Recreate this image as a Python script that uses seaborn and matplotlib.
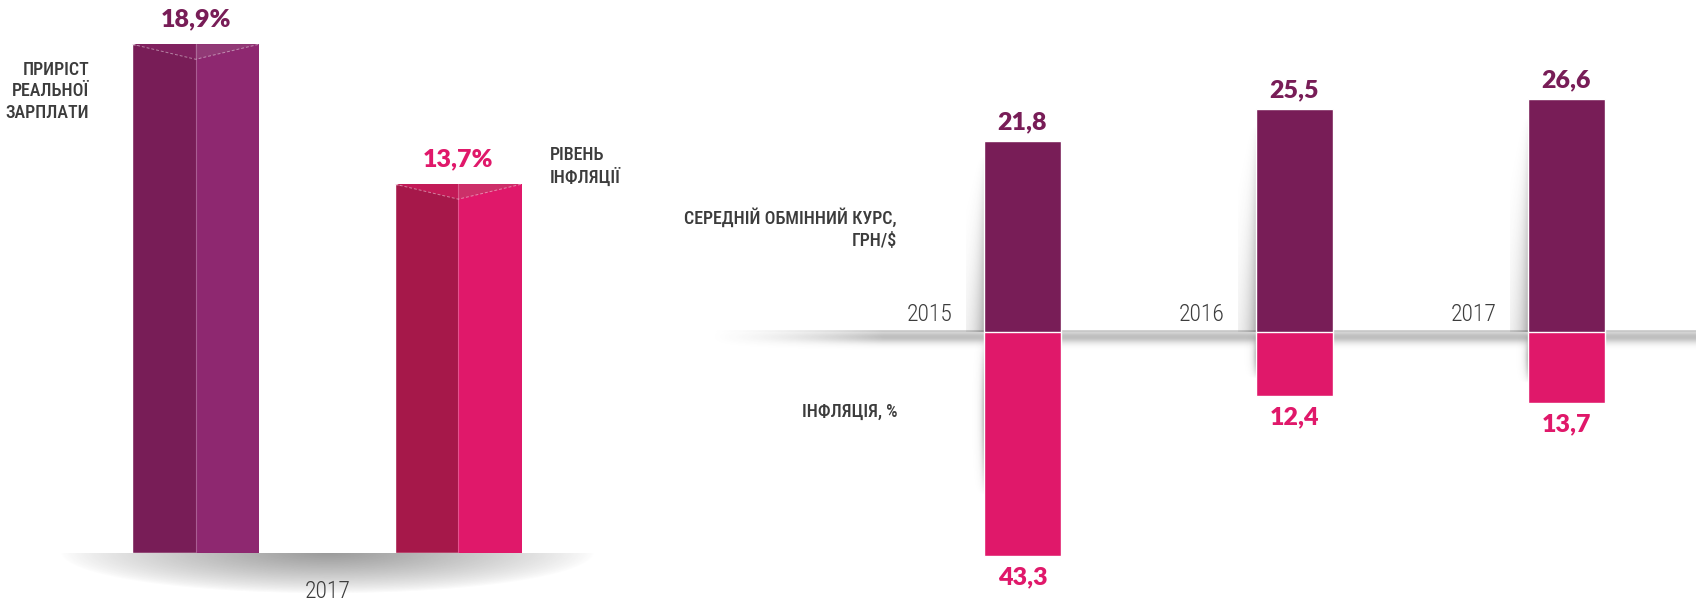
import numpy as np
import matplotlib
matplotlib.use("Agg")
import matplotlib.pyplot as plt
import matplotlib.transforms as mtransforms
from matplotlib import font_manager
from matplotlib.patches import Rectangle, Polygon
import seaborn as sns

# -----------------------------------
# DATA
# -----------------------------------

left_labels = ["ПРИРІСТ\nРЕАЛЬНОЇ\nЗАРПЛАТИ", "РІВЕНЬ\nІНФЛЯЦІЇ"]
left_values = [18.9, 13.7]
left_year = "2017"

years = ["2015", "2016", "2017"]
exchange_rate = [21.8, 25.5, 26.6]
inflation = [43.3, 12.4, 13.7]
rate_label = "СЕРЕДНІЙ ОБМІННИЙ КУРС,\nГРН/$"
infl_label = "ІНФЛЯЦІЯ, %"

# -----------------------------------
# STYLE
# -----------------------------------

PURPLE = "#781d57"
PURPLE_LIGHT = "#8e2870"
CRIMSON = "#a6184a"
PINK = "#e0186a"
GREY = "#3c3c3c"
TOP_FACE = [("#80215f", "#913a76"), ("#c21a57", "#cc3069")]

sns.set_theme(style="white")

installed = {f.name for f in font_manager.fontManager.ttflist}


def pick(*names):
    for n in names:
        if n in installed:
            return n
    return "DejaVu Sans"


NARROW = pick("Liberation Sans Narrow", "Roboto Condensed", "Roboto")
HEAVY = pick("Lato", "Inter", "Roboto")
plt.rcParams["font.family"] = [NARROW, "DejaVu Sans"]

W, H = 1696, 605
fig = plt.figure(figsize=(W / 100, H / 100), dpi=100)


def box(x0, y0, x1, y1):
    # pixel box (from top-left) -> figure fraction rect
    return [x0 / W, 1 - y1 / H, (x1 - x0) / W, (y1 - y0) / H]


def fxy(x, y):
    return x / W, 1 - y / H


def shifted(ax, dx, dy):
    return mtransforms.offset_copy(ax.transData, fig=fig, x=dx, y=dy, units="dots")


# -----------------------------------
# LEFT CHART: wage growth vs inflation 2017
# -----------------------------------

BASE_L = 552.7
PX_L = 26.9  # pixels per percent

# soft elliptical shadow under the bars
ax_sh = fig.add_axes(box(60, BASE_L, 594, 594))
gx = np.linspace(-1, 1, 534)
gy = np.linspace(0, 1, 41)
XX, YY = np.meshgrid(gx, gy)
r = np.sqrt(XX ** 2 + YY ** 2)
shadow = np.zeros(XX.shape + (4,))
shadow[..., :3] = 0.2
shadow[..., 3] = 0.5 * np.clip(1 - r, 0, 1) ** 0.8
ax_sh.imshow(shadow, aspect="auto", interpolation="bilinear")
ax_sh.axis("off")

ax_l = fig.add_axes(box(64.4, 0, 589.6, BASE_L))
sns.barplot(x=left_labels, y=left_values, hue=left_labels,
            palette=[PURPLE, CRIMSON], width=0.482, saturation=1,
            legend=False, ax=ax_l)
ax_l.set_xlim(-0.5, 1.5)
ax_l.set_ylim(0, BASE_L / PX_L)
ax_l.axis("off")

depth = 15 / PX_L
light = [PURPLE_LIGHT, PINK]
text_col = [PURPLE, PINK]
for i, p in enumerate(list(ax_l.patches)[:2]):
    x, w, h = p.get_x(), p.get_width(), p.get_height()
    mid = x + w / 2
    ax_l.add_patch(Rectangle((mid, 0), w / 2, h, color=light[i], lw=0))
    ax_l.plot([mid, mid], [0, h], color="white", alpha=0.25, lw=0.8)
    ax_l.add_patch(Polygon([(x, h), (mid, h), (mid, h - depth)],
                           closed=True, color=TOP_FACE[i][0], lw=0))
    ax_l.add_patch(Polygon([(mid, h), (x + w, h), (mid, h - depth)],
                           closed=True, color=TOP_FACE[i][1], lw=0))
    ax_l.plot([x, mid, x + w], [h, h - depth, h], color="white", alpha=0.45,
              lw=0.7, ls=(0, (3, 2)))
    ax_l.text(mid, h, f"{left_values[i]:.1f}".replace(".", ",") + "%",
              transform=shifted(ax_l, 0, 25), ha="center", va="center",
              fontsize=18, fontweight="heavy", family=[HEAVY, "DejaVu Sans"],
              color=text_col[i])

fig.text(*fxy(89, 91.5), left_labels[0], ha="right", va="center",
         multialignment="right", fontsize=13, fontweight="medium",
         color=GREY, linespacing=1.25)
fig.text(*fxy(550, 166), left_labels[1], ha="left", va="center",
         multialignment="left", fontsize=13, fontweight="medium",
         color=GREY, linespacing=1.25)
fig.text(*fxy(328, 592), left_year, ha="center", va="center",
         fontsize=17, fontweight="light", color=GREY)

# -----------------------------------
# RIGHT CHART: exchange rate (up) and inflation (down)
# -----------------------------------

BASE_R = 331.7
PX_T = 8.73   # pixels per UAH
PX_B = 5.17   # pixels per percent
XL = (-1.186, 2.477)
PX_X = 271.9  # pixels per category

# shelf shadow along the zero line
ax_shelf = fig.add_axes(box(705, BASE_R - 2, 1696, BASE_R + 22))
sx = np.linspace(0, 1, 991)
sy = np.arange(24)
SX, SY = np.meshgrid(sx, sy)
shelf = np.zeros(SX.shape + (4,))
shelf[..., :3] = 0.25
fade_in = np.clip(SX / 0.18, 0, 1) ** 1.5
shelf[..., 3] = fade_in * (0.34 * np.exp(-((SY - 7) / 6.0) ** 2)
                           + 0.12 * (SY < 3))
ax_shelf.imshow(shelf, aspect="auto", interpolation="bilinear")
ax_shelf.axis("off")

ax_t = fig.add_axes(box(700, 0, 1696, BASE_R))
sns.barplot(x=years, y=exchange_rate, color=PURPLE, saturation=1,
            width=0.283, ax=ax_t)
ax_b = fig.add_axes(box(700, BASE_R, 1696, H))
sns.barplot(x=years, y=inflation, color=PINK, saturation=1,
            width=0.283, ax=ax_b)

ax_t.set_zorder(3)
ax_b.set_zorder(3)

for ax, px_y, sign in [(ax_t, PX_T, 1), (ax_b, PX_B, -1)]:
    for p in list(ax.patches):
        x, w, h = p.get_x(), p.get_width(), p.get_height()
        # soft side shadow on the left of each bar
        nx, ny = 30, 60
        dx = np.linspace(18, 0, nx)
        t = np.linspace(0, 1, ny)[:, None]
        if sign > 0:
            spread = 2 + 8 * t
            prof = 0.45 * t ** 0.6
        else:
            spread = 2.5 + 0 * t
            prof = 0.55 * np.sin(np.pi * np.clip(t * 1.1, 0, 1)) ** 0.8
        img = np.zeros((ny, nx, 4))
        img[..., :3] = 0.25
        img[..., 3] = prof * np.exp(-dx[None, :] / spread)
        y0, y1 = (h * 0.93, 0) if sign > 0 else (h * 0.02, h * 0.8)
        ax.imshow(img, extent=[x - 18 / PX_X, x, y1, y0], aspect="auto",
                  interpolation="bilinear", zorder=1)
        p.set_zorder(2)

for ax, vals, col, off in [(ax_t, exchange_rate, PURPLE, 19),
                           (ax_b, inflation, PINK, -21.5)]:
    for p, v in zip(ax.patches, vals):
        ax.text(p.get_x() + p.get_width() / 2, p.get_height(),
                f"{v:.1f}".replace(".", ","), transform=shifted(ax, 0, off),
                ha="center", va="center", fontsize=18, fontweight="heavy",
                family=[HEAVY, "DejaVu Sans"], color=col)

for p, yr in zip(ax_t.patches, years):
    ax_t.text(p.get_x(), 0, yr, transform=shifted(ax_t, -31, 17),
              ha="right", va="center", fontsize=17, fontweight="light",
              color=GREY)

ax_t.set_xlim(*XL)
ax_t.set_ylim(0, BASE_R / PX_T)
ax_b.set_xlim(*XL)
ax_b.set_ylim((H - BASE_R) / PX_B, 0)
ax_t.axis("off")
ax_b.axis("off")

fig.text(*fxy(897, 229), rate_label, ha="right", va="center",
         multialignment="right", fontsize=13, fontweight="medium",
         color=GREY, linespacing=1.25)
fig.text(*fxy(897, 412), infl_label, ha="right", va="center",
         fontsize=13, fontweight="medium", color=GREY)

fig.savefig("out.png", dpi=100)
